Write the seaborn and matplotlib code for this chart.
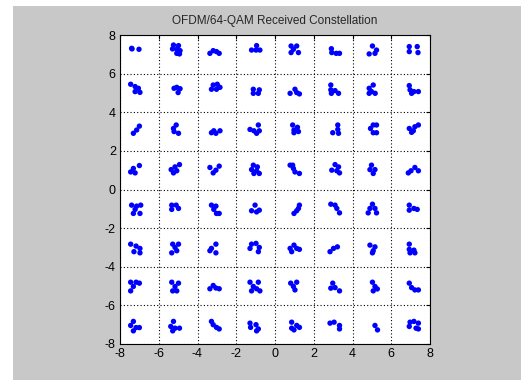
#!/usr/bin/env python3
"""OFDM/64-QAM received constellation, MATLAB-style scatter."""

import matplotlib
matplotlib.use("Agg")
import matplotlib.pyplot as plt
from matplotlib.patches import Rectangle
import pandas as pd
import seaborn as sns


# ideal 64-QAM levels (both I and Q)
LEVELS = [-7, -5, -3, -1, 1, 3, 5, 7]

# received offsets (dI, dQ) around each ideal point
# one list per Q row, 8 clusters per row from I = -7 to I = 7
ROW_Q7 = [
    [(-0.40, 0.31), (-0.02, 0.26), (-0.38, 0.28)],
    [(-0.24, 0.48), (0.02, 0.45), (-0.29, 0.28), (-0.07, 0.26), (0.10, 0.19), (-0.07, 0.05), (0.07, 0.02)],
    [(-0.36, 0.05), (-0.19, 0.19), (-0.02, 0.14), (0.12, 0.05)],
    [(0.05, 0.45), (-0.21, 0.22), (0.02, 0.22), (0.22, 0.22)],
    [(-0.17, 0.43), (0.12, 0.43), (-0.05, 0.26), (-0.17, 0.09), (0.21, 0.09)],
    [(-0.09, 0.29), (-0.07, 0.09), (0.16, 0.05), (0.33, 0.05)],
    [(0.03, 0.43), (0.24, 0.22), (-0.14, 0.02), (0.16, 0.05)],
    [(-0.07, 0.40), (0.34, 0.40), (-0.07, 0.14), (0.38, 0.09)],
]
ROW_Q5 = [
    [(-0.45, 0.45), (-0.22, 0.33), (-0.05, 0.24), (-0.22, 0.07), (0.03, 0.03)],
    [(-0.21, 0.24), (-0.07, 0.29), (0.10, 0.22), (0.00, 0.02)],
    [(-0.19, 0.41), (0.02, 0.45), (-0.28, 0.19), (-0.02, 0.19), (0.16, 0.29)],
    [(-0.12, 0.19), (-0.12, -0.02), (0.14, -0.02), (0.19, 0.16)],
    [(0.03, 0.19), (-0.22, -0.02), (0.12, 0.02), (0.26, -0.05)],
    [(-0.12, 0.41), (-0.12, 0.16), (0.10, 0.12), (0.28, -0.02), (-0.09, -0.02)],
    [(0.07, 0.41), (-0.14, 0.24), (-0.02, 0.07), (0.17, -0.02), (-0.14, -0.02)],
    [(-0.07, 0.38), (-0.03, 0.16), (0.17, 0.07), (0.40, 0.07), (0.05, -0.02)],
]
ROW_Q3 = [
    [(0.00, 0.28), (-0.14, 0.08), (-0.31, -0.09)],
    [(-0.10, 0.34), (-0.24, 0.16), (-0.21, 0.00), (0.02, -0.09)],
    [(-0.28, -0.06), (-0.05, -0.09), (0.16, 0.04), (-0.16, 0.04)],
    [(0.14, 0.34), (-0.29, 0.11), (-0.09, 0.04), (0.05, -0.09), (0.19, 0.04)],
    [(-0.09, 0.34), (0.16, 0.22), (-0.02, 0.08), (0.21, 0.00), (-0.02, -0.06)],
    [(0.24, 0.34), (0.24, 0.11), (-0.02, -0.06), (0.28, -0.09)],
    [(0.07, 0.34), (0.24, 0.34), (-0.07, 0.16), (0.07, -0.06), (0.24, -0.06)],
    [(0.40, 0.34), (0.22, 0.25), (-0.07, 0.16), (0.14, 0.04), (0.05, -0.04)],
]
ROW_Q1 = [
    [(0.00, 0.24), (-0.31, 0.09), (-0.45, -0.09), (-0.22, -0.14)],
    [(0.07, 0.29), (-0.16, 0.17), (-0.36, 0.03), (-0.24, -0.14), (-0.07, -0.03)],
    [(-0.36, 0.14), (0.12, 0.21), (-0.05, 0.00), (-0.19, -0.14)],
    [(-0.12, 0.26), (0.09, 0.17), (-0.21, 0.03), (0.05, -0.03), (0.19, -0.17), (-0.09, -0.17)],
    [(-0.22, 0.26), (-0.05, 0.09), (0.03, -0.09), (0.26, -0.17), (-0.09, 0.26)],
    [(0.10, 0.29), (0.28, 0.17), (-0.07, 0.00), (0.19, -0.03), (0.33, -0.14)],
    [(-0.02, 0.26), (-0.10, 0.03), (0.16, 0.03), (0.07, -0.17)],
    [(0.22, 0.14), (0.02, -0.03), (0.40, -0.03), (-0.12, -0.14)],
]
ROW_QM1 = [
    [(-0.40, 0.19), (-0.14, 0.14), (0.07, 0.19), (-0.22, -0.03), (-0.31, -0.24), (0.03, -0.24)],
    [(-0.33, 0.19), (-0.10, 0.19), (0.02, 0.02), (-0.33, -0.03)],
    [(-0.28, 0.19), (-0.05, 0.14), (-0.16, -0.03), (-0.02, -0.24), (0.12, -0.24)],
    [(-0.03, 0.19), (-0.21, -0.10), (0.05, -0.16), (0.19, -0.07)],
    [(0.26, 0.19), (0.21, 0.02), (0.12, -0.10), (-0.02, -0.24)],
    [(-0.12, 0.24), (0.10, 0.19), (0.19, 0.02), (0.33, -0.21)],
    [(0.03, 0.24), (-0.10, 0.02), (0.16, 0.02), (-0.19, -0.21), (0.24, -0.21)],
    [(-0.07, 0.19), (-0.07, -0.07), (0.17, 0.02), (0.34, -0.03)],
]
ROW_QM3 = [
    [(-0.45, 0.17), (-0.17, 0.07), (0.03, -0.05), (-0.28, -0.22), (0.03, -0.28)],
    [(-0.28, 0.17), (0.02, 0.17), (-0.16, 0.00), (-0.07, -0.17), (-0.33, -0.28)],
    [(-0.05, 0.17), (-0.28, -0.05), (-0.36, -0.17), (-0.05, -0.28)],
    [(-0.21, 0.17), (0.02, 0.21), (-0.29, -0.05), (0.19, 0.00), (0.14, -0.22)],
    [(-0.02, 0.12), (-0.22, -0.05), (0.12, -0.05), (0.26, -0.10), (-0.14, -0.22)],
    [(0.22, 0.03), (0.02, -0.05), (-0.16, -0.22)],
    [(-0.10, 0.12), (0.16, 0.03), (0.07, -0.17), (0.03, -0.28)],
    [(-0.07, 0.17), (-0.07, -0.10), (0.17, -0.14), (-0.03, -0.28), (0.22, -0.28)],
]
ROW_QM5 = [
    [(-0.45, 0.20), (-0.17, 0.20), (0.00, 0.15), (-0.31, -0.02), (-0.45, -0.25)],
    [(-0.33, 0.20), (0.02, 0.15), (-0.16, -0.02), (-0.28, -0.25), (-0.07, -0.25)],
    [(-0.19, 0.03), (-0.36, -0.14), (-0.05, -0.10), (0.12, -0.14)],
    [(-0.29, 0.20), (0.14, 0.20), (-0.12, -0.02), (0.05, -0.14), (-0.21, -0.25), (0.22, -0.25)],
    [(-0.19, 0.15), (0.12, 0.20), (-0.05, -0.02), (0.03, -0.20)],
    [(-0.02, 0.15), (-0.12, -0.11), (0.10, -0.08), (0.33, -0.25)],
    [(0.03, 0.20), (0.16, -0.02), (0.07, -0.25), (0.28, -0.15)],
    [(-0.07, 0.15), (0.05, -0.08), (0.22, -0.20), (0.40, -0.20)],
]
ROW_QM7 = [
    [(-0.31, 0.17), (-0.45, -0.04), (-0.17, -0.15), (0.00, -0.15), (-0.31, -0.32)],
    [(-0.24, 0.17), (-0.38, -0.09), (-0.16, -0.18), (0.07, -0.18), (-0.28, -0.32)],
    [(-0.28, 0.17), (-0.19, 0.00), (-0.02, -0.14), (0.12, -0.22)],
    [(-0.29, 0.08), (-0.26, -0.14), (0.02, 0.00), (0.14, -0.22), (0.05, -0.32)],
    [(-0.14, 0.13), (-0.14, -0.18), (0.12, -0.04), (0.26, -0.14), (-0.02, -0.27)],
    [(-0.16, 0.08), (0.05, 0.13), (0.33, -0.04), (0.33, -0.22)],
    [(0.16, -0.04), (0.29, -0.27)],
    [(-0.03, 0.13), (0.17, 0.17), (0.40, 0.08), (-0.07, -0.09), (0.28, -0.18), (0.40, -0.22)],
]

ROWS = {7: ROW_Q7, 5: ROW_Q5, 3: ROW_Q3, 1: ROW_Q1,
        -1: ROW_QM1, -3: ROW_QM3, -5: ROW_QM5, -7: ROW_QM7}

TICKS = [-8, -6, -4, -2, 0, 2, 4, 6, 8]


def main() -> None:
    recs = []
    for q, row in ROWS.items():
        for i, cluster in zip(LEVELS, row):
            for di, dq in cluster:
                recs.append({"I": i + di, "Q": q + dq})
    df = pd.DataFrame(recs)

    sns.set_style("white")
    plt.rcParams["font.family"] = ["Liberation Sans", "DejaVu Sans"]
    plt.rcParams["axes.unicode_minus"] = False

    fig = plt.figure(figsize=(5.21, 3.80), dpi=100)
    fig.patch.set_facecolor("white")
    # gray MATLAB figure panel (screen grab leaves a thin white strip top/left)
    fig.patches.append(Rectangle((13 / 521, 0), 1 - 13 / 521, 374 / 380,
                                 transform=fig.transFigure, facecolor="#c8c8c8",
                                 edgecolor="none", zorder=-10))
    ax = fig.add_axes([120 / 521, 1 - 344 / 380, 310 / 521, 309 / 380])
    ax.set_zorder(1)
    ax.set_facecolor("white")

    sns.scatterplot(data=df, x="I", y="Q", color="#0000ff", s=15,
                    edgecolor="none", linewidth=0, ax=ax, zorder=3)

    ax.set_xlim(-8, 8)
    ax.set_ylim(-8, 8)
    ax.set_xticks(TICKS)
    ax.set_yticks(TICKS)
    ax.set_xlabel("")
    ax.set_ylabel("")
    ax.grid(True, color="black", linestyle=(0, (1, 2)), linewidth=0.8)
    ax.set_axisbelow(True)
    for s in ax.spines.values():
        s.set_color("black")
        s.set_linewidth(0.8)
    ax.tick_params(direction="in", length=3, width=0.8, labelsize=9,
                   colors="black", top=True, right=True, pad=3)
    ax.set_title("OFDM/64-QAM Received Constellation", fontsize=8.5, pad=8)

    fig.savefig("out.png", dpi=100, facecolor=fig.get_facecolor())


if __name__ == "__main__":
    main()
